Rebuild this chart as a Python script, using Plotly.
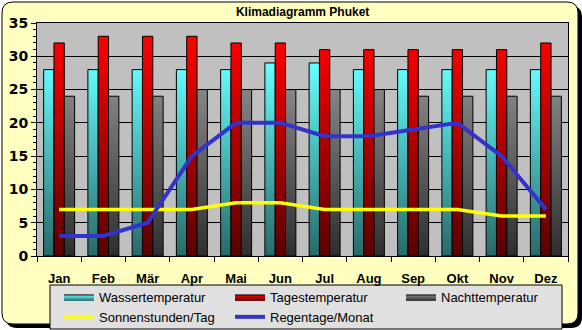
import plotly.graph_objects as go

months = ["Jan", "Feb", "Mär", "Apr", "Mai", "Jun", "Jul", "Aug", "Sep", "Okt", "Nov", "Dez"]
wasser = [28, 28, 28, 28, 28, 29, 29, 28, 28, 28, 28, 28]
tages = [32, 33, 33, 33, 32, 32, 31, 31, 31, 31, 31, 32]
nacht = [24, 24, 24, 25, 25, 25, 25, 25, 24, 24, 24, 24]
sonne = [7, 7, 7, 7, 8, 8, 7, 7, 7, 7, 6, 6]
regen = [3, 3, 5, 15, 20, 20, 18, 18, 19, 20, 15, 7]

W, H = 582, 330
ML, MR, MT, MB = 37, 14, 23, 74
PW, PH = W - ML - MR, H - MT - MB

GROUP = 0.7
BW = GROUP / 3


def bar_polygons(values, k):
    xs, ys = [], []
    for i, v in enumerate(values):
        x0 = i - GROUP / 2 + k * BW
        x1 = x0 + BW
        xs += [x0, x0, x1, x1, x0, None]
        ys += [0, v, v, 0, 0, None]
    return xs, ys


def px(x):
    return (x - ML) / PW


def py(y):
    return (H - MB - y) / PH


def rounded(x0, y0, x1, y1, r):
    return (
        f"M {px(x0 + r)},{py(y0)} L {px(x1 - r)},{py(y0)} "
        f"Q {px(x1)},{py(y0)} {px(x1)},{py(y0 + r)} "
        f"L {px(x1)},{py(y1 - r)} Q {px(x1)},{py(y1)} {px(x1 - r)},{py(y1)} "
        f"L {px(x0 + r)},{py(y1)} Q {px(x0)},{py(y1)} {px(x0)},{py(y1 - r)} "
        f"L {px(x0)},{py(y0 + r)} Q {px(x0)},{py(y0)} {px(x0 + r)},{py(y0)} Z"
    )


fig = go.Figure()

bar_specs = [
    ("Wassertemperatur", wasser, "#296969", "#66FFFF"),
    ("Tagestemperatur", tages, "#5A0000", "#FF0000"),
    ("Nachttemperatur", nacht, "#2E2E2E", "#858585"),
]
for k, (name, vals, dark, light) in enumerate(bar_specs):
    xs, ys = bar_polygons(vals, k)
    fig.add_trace(go.Scatter(
        x=xs, y=ys, name=name, mode="lines", fill="toself",
        line=dict(color="black", width=1),
        fillgradient=dict(type="vertical", colorscale=[[0, dark], [1, light]],
                          start=0, stop=max(vals)),
        hoverinfo="skip",
    ))

fig.add_trace(go.Scatter(x=list(range(12)), y=sonne, name="Sonnenstunden/Tag",
                         mode="lines", line=dict(color="#FFFF00", width=3.5)))
fig.add_trace(go.Scatter(x=list(range(12)), y=regen, name="Regentage/Monat",
                         mode="lines", line=dict(color="#3333CC", width=4)))

shapes = [
    dict(type="path", xref="paper", yref="paper", layer="below",
         path=rounded(6, 6, 582, 328, 11), fillcolor="black", line=dict(width=0)),
    dict(type="path", xref="paper", yref="paper", layer="below",
         path=rounded(2, 2, 578, 324, 11), fillcolor="#FFFFC0",
         line=dict(color="black", width=1)),
    dict(type="rect", xref="paper", yref="paper", layer="below",
         x0=px(50), x1=px(562), y0=py(285), y1=py(329),
         fillcolor="#E0E0E0", line=dict(color="black", width=1)),
    dict(type="rect", xref="x domain", yref="y domain", layer="below",
         x0=0, x1=1, y0=0, y1=1, fillcolor="#C0C0C0", line=dict(width=0)),
]

fig.update_layout(
    width=W, height=H,
    margin=dict(l=ML, r=MR, t=MT, b=MB, pad=0, autoexpand=False),
    paper_bgcolor="white", plot_bgcolor="#C0C0C0",
    shapes=shapes,
    title=dict(text="<b>Klimadiagramm Phuket</b>", x=0.52, xanchor="center",
               y=1 - 12 / H, yanchor="middle",
               font=dict(family="Liberation Sans", size=12, color="black")),
    showlegend=True,
    legend=dict(orientation="h", x=px(59), xanchor="left", y=py(282), yanchor="top",
                bgcolor="rgba(0,0,0,0)", borderwidth=0,
                font=dict(family="Liberation Sans", size=13, color="black"),
                entrywidth=126, entrywidthmode="pixels", traceorder="normal"),
    xaxis=dict(range=[-0.5, 11.5], tickvals=list(range(12)), ticktext=months,
               ticks="outside", ticklen=10, tickcolor="rgba(0,0,0,0)",
               showgrid=False, zeroline=False, showline=True, linecolor="black",
               linewidth=1, mirror=True,
               tickfont=dict(family="Liberation Sans", size=13, color="black", weight="bold"),
               minor=dict(tickvals=[i - 0.5 for i in range(13)], ticks="outside",
                          ticklen=5, tickcolor="black", showgrid=False)),
    yaxis=dict(range=[0, 35], dtick=5, ticks="outside", ticklen=5, tickcolor="black",
               showgrid=True, gridcolor="black", gridwidth=1, zeroline=False,
               showline=True, linecolor="black", linewidth=1, mirror=True,
               tickfont=dict(family="DejaVu Sans", size=14, color="black", weight="bold"),
               minor=dict(dtick=1, ticks="outside", ticklen=3, tickcolor="black",
                          showgrid=False)),
)

fig.write_html("out.html")
